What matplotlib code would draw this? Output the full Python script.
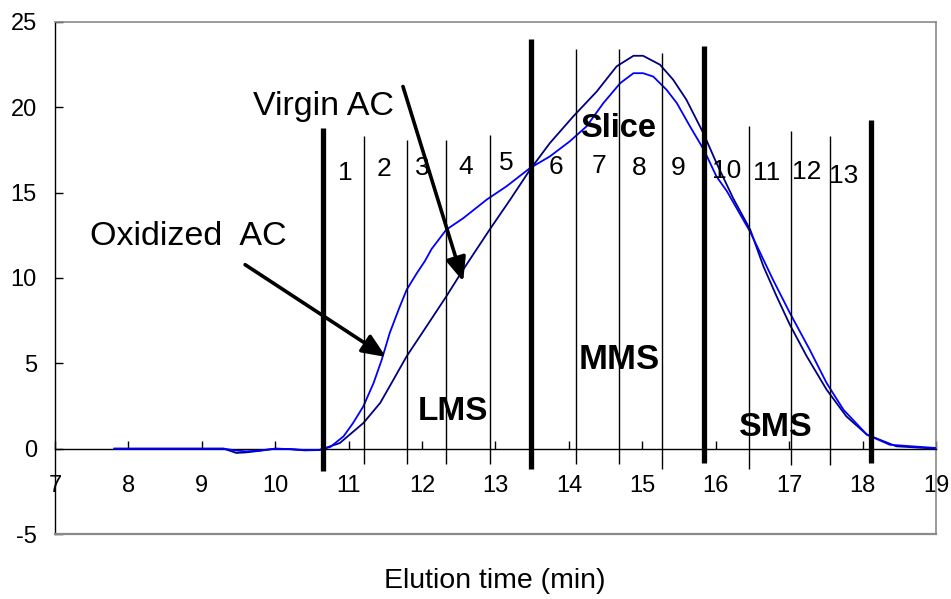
import matplotlib
matplotlib.use("Agg")
import matplotlib.pyplot as plt

plt.rcParams['font.family'] = ['Liberation Sans', 'DejaVu Sans']
plt.rcParams['axes.unicode_minus'] = False

# ---- data ----
ox_x = [7.81, 9.0, 9.3, 9.45, 9.6, 9.8, 10.0, 10.2, 10.4, 10.6, 10.75, 10.93, 11.06, 11.20,
        11.34, 11.45, 11.56, 11.68, 11.79, 11.93, 12.04, 12.13, 12.33, 12.56, 12.88, 13.15,
        13.47, 13.74, 14.01, 14.24, 14.47, 14.70, 14.88, 15.01, 15.15, 15.33, 15.47, 15.65,
        15.84, 16.01, 16.15, 16.47, 16.78, 17.01, 17.28, 17.51, 17.74, 18.06, 18.37, 19.0]
ox_y = [0.0, 0.0, 0.0, -0.1, -0.16, -0.1, 0.0, -0.02, -0.08, -0.08, 0.1, 0.72, 1.5, 2.48,
        3.85, 5.2, 6.78, 8.14, 9.31, 10.29, 11.0, 11.7, 12.83, 13.5, 14.59, 15.37,
        16.44, 17.12, 18.0, 18.88, 20.25, 21.42, 22.0, 22.0, 21.8, 21.03, 20.25, 18.88,
        17.5, 15.95, 15.1, 12.7, 9.9, 7.95, 5.8, 3.85, 2.28, 0.82, 0.23, 0.04]

vg_x = [7.81, 9.0, 9.3, 9.47, 9.6, 9.8, 10.0, 10.2, 10.4, 10.6, 10.88, 11.20, 11.43, 11.61,
        11.79, 12.06, 12.33, 12.56, 12.92, 13.20, 13.47, 13.74, 14.06, 14.38, 14.65, 14.88,
        15.01, 15.24, 15.42, 15.60, 15.83, 16.01, 16.24, 16.47, 16.65, 16.83, 17.01, 17.24,
        17.51, 17.78, 18.06, 18.46, 19.0]
vg_y = [0.0, 0.0, 0.0, -0.25, -0.22, -0.12, 0.0, -0.03, -0.1, -0.08, 0.33, 1.5, 2.68, 4.04,
        5.41, 7.16, 8.92, 10.49, 12.83, 14.59, 16.34, 17.9, 19.47, 20.93, 22.4, 23.02,
        23.02, 22.5, 21.62, 20.45, 18.5, 16.74, 14.65, 12.83, 10.68, 8.92, 7.26, 5.41,
        3.46, 1.89, 0.82, 0.14, 0.0]

thick_x = [10.65, 13.48, 15.84, 18.11]
thick_top = [18.8, 24.0, 23.57, 19.25]
thick_bot = [-1.3, -1.2, -0.85, -0.85]

thin_x = [11.21, 11.79, 12.32, 12.92, 14.10, 14.68, 15.27, 16.46, 17.02, 17.55]
thin_top = [18.3, 18.1, 18.1, 18.4, 23.4, 23.4, 23.2, 18.9, 18.6, 18.3]
thin_bot = [-0.9, -0.9, -0.9, -0.9, -0.9, -0.9, -1.2, -1.2, -0.95, -0.95]

slice_labels = ['1', '2', '3', '4', '5', '6', '7', '8', '9', '10', '11', '12', '13']
slice_x = [10.96, 11.48, 12.01, 12.60, 13.15, 13.82, 14.41, 14.96, 15.49, 16.15, 16.70, 17.24, 17.74]
slice_y = [15.76, 15.95, 16.05, 16.1, 16.34, 16.1, 16.15, 16.05, 16.05, 15.86, 15.76, 15.8, 15.56]

xticks = list(range(7, 20))
yticks = [-5, 0, 5, 10, 15, 20, 25]

# ---- figure ----
fig = plt.figure(figsize=(9.51, 5.99), dpi=100)
ax = fig.add_axes([0.0578, 0.1085, 0.9264, 0.8548])
ax.set_xlim(7, 19)
ax.set_ylim(-5, 25)

for s in ['top', 'right']:
    ax.spines[s].set_color('#8a8a8a')
    ax.spines[s].set_linewidth(1.2)
ax.spines['left'].set_color('black')
ax.spines['left'].set_linewidth(1.0)
ax.spines['bottom'].set_position(('data', 0))
ax.spines['bottom'].set_color('black')
ax.spines['bottom'].set_linewidth(1.0)
ax.axhline(-5, color='#8a8a8a', lw=1.6, clip_on=False, zorder=5)

ax.set_xticks(xticks)
ax.set_yticks(yticks)
ax.tick_params(axis='x', direction='in', length=6, width=1, pad=19, labelsize=17)
ax.tick_params(axis='y', direction='in', length=6, width=1, pad=13, labelsize=17)

ax.plot(vg_x, vg_y, color='#000080', lw=1.3, zorder=3)
ax.plot(ox_x, ox_y, color='#0000ff', lw=1.3, zorder=3)

ax.vlines(thick_x, thick_bot, thick_top, colors='black', lw=3.8, zorder=4)
ax.vlines(thin_x, thin_bot, thin_top, colors='black', lw=1.0, zorder=4)

for lab, x, y in zip(slice_labels, slice_x, slice_y):
    ax.text(x, y, lab, ha='center', va='baseline', fontsize=19)

ax.text(14.67, 18.26, 'Slice', ha='center', va='baseline', fontsize=23.5, fontweight='bold')
ax.text(14.68, 4.67, 'MMS', ha='center', va='baseline', fontsize=25, fontweight='bold')
ax.text(12.42, 1.70, 'LMS', ha='center', va='baseline', fontsize=24, fontweight='bold')
ax.text(16.82, 0.72, 'SMS', ha='center', va='baseline', fontsize=24.5, fontweight='bold')
ax.text(9.70, 19.57, 'Virgin AC', ha='left', va='baseline', fontsize=24.5)
ax.text(7.48, 11.95, 'Oxidized  AC', ha='left', va='baseline', fontsize=24.5)

arrow_style = dict(arrowstyle='-|>,head_length=0.4,head_width=0.17', lw=2.6, color='black',
                   mutation_scale=36, shrinkA=0, shrinkB=0)
ax.annotate('', xy=(12.56, 9.8), xytext=(11.74, 21.22), arrowprops=arrow_style, zorder=6)
ax.annotate('', xy=(11.51, 5.37), xytext=(9.59, 10.78), arrowprops=arrow_style, zorder=6)

fig.text(0.5205, 0.0179, 'Elution time (min)', ha='center', va='baseline', fontsize=20.5)

fig.savefig('out.png', dpi=100)
